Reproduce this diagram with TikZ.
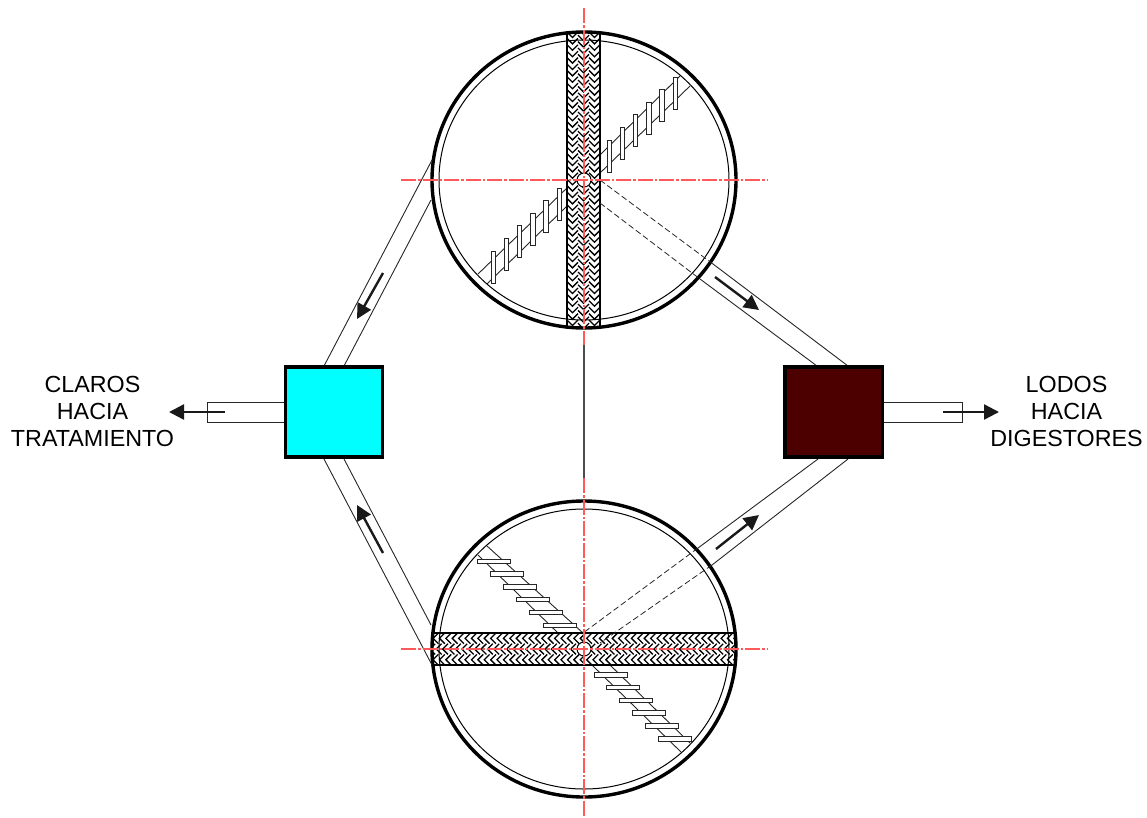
\documentclass[tikz,border=0pt]{standalone}
\usepackage{fontspec}
\setmainfont{Liberation Sans}
\usetikzlibrary{arrows.meta}
\definecolor{clearwater}{RGB}{0,255,255}
\definecolor{sludgecol}{RGB}{77,0,0}
\definecolor{axisred}{RGB}{255,90,90}
\tikzset{
  pipeline/.style={line width=0.9pt,black!85},
  hidden/.style={line width=0.8pt,black!85,dash pattern=on 6pt off 3pt},
  outerring/.style={line width=3.4pt,black},
  innerring/.style={line width=1pt,black},
  axisline/.style={line width=1.4pt,axisred,dash pattern=on 15pt off 2pt on 2.5pt off 2pt},
  belt/.style={line width=1.3pt,black},
  hatchline/.style={line width=1.3pt,black},
  paddle/.style={line width=1pt,black!85,fill=white},
  flow/.style={line width=2.4pt,black!90,-{Triangle[length=15pt,width=15pt]}},
  tank/.style={draw=black,line width=3.6pt,inner sep=0pt,minimum width=97.2pt,minimum height=90.4pt},
  hub/.style={circle,draw=black,fill=white,line width=1pt,minimum size=14pt,inner sep=0pt},
  caption/.style={align=center,font=\fontsize{23.3}{26.6}\selectfont}
}
\begin{document}
\begin{tikzpicture}[x=1pt,y=-1pt]
\useasboundingbox (0,0) rectangle (1147,817);
% ---------- top clarifier
\coordinate (topc) at (584,180);
\draw[pipeline] (600,155) -- (680,76);
\draw[pipeline] (690,86) -- (600,173);
\draw[pipeline] (568,205) -- (487,284);
\draw[pipeline] (478,274) -- (568,187);
\foreach \i in {0,...,5}{
  \draw[paddle] ({607+13.2*\i},{140-12.6*\i}) rectangle ++(4.5,32);
  \draw[paddle] ({557-13.2*\i},{188+12.6*\i}) rectangle ++(4.5,32);
}
\begin{scope}
  \clip (567,32) rectangle (600,328);
  \foreach \b/\x/\o in {0/567/0,1/578/3.2,2/589/0}{
    \foreach \k in {-1,...,48}{
      \draw[hatchline] (\x,{32+\o+6.4*\k}) -- ++(5.5,5.5) -- ++(5.5,-5.5);
    }
  }
\end{scope}
\draw[belt] (567,32) rectangle (600,328);
\draw[innerring] (topc) ellipse [x radius=145,y radius=140];
\draw[outerring] (topc) ellipse [x radius=152,y radius=148];
\draw[hidden] (600,180) -- (713,264);
\draw[hidden] (600,203) -- (700,279);
\node[hub] (hubtop) at (topc) {};
% ---------- bottom clarifier
\coordinate (botc) at (584,649);
\draw[pipeline] (583,633) -- (487,546);
\draw[pipeline] (478,555) -- (558,633);
\draw[pipeline] (592,665) -- (681,752);
\draw[pipeline] (690,743) -- (610,665);
\foreach \i in {0,...,5}{
  \draw[paddle] ({477+13.2*\i},{559+12.8*\i}) rectangle ++(33,4.5);
  \draw[paddle] ({594+12.9*\i},{672.5+12.8*\i}) rectangle ++(33,4.5);
}
\begin{scope}
  \clip (432,633) rectangle (736,665);
  \foreach \b/\y/\o in {0/633/0,1/643.7/3.2,2/654.4/0}{
    \foreach \k in {-1,...,49}{
      \draw[hatchline] ({432+\o+6.4*\k},\y) -- ++(-5.35,5.35) -- ++(5.35,5.35);
    }
  }
\end{scope}
\draw[belt] (432,633) rectangle (736,665);
\draw[innerring] (botc) ellipse [x radius=145,y radius=140];
\draw[outerring] (botc) ellipse [x radius=152,y radius=148];
\draw[hidden] (698,548) -- (583,633);
\draw[hidden] (712,565) -- (600,643);
\node[hub] (hubbot) at (botc) {};
% ---------- link between tanks
\draw[line width=1.2pt,black!70] (584,345) -- (584,478);
% ---------- pipes
\coordinate (tl1) at (432,160); \coordinate (tl2) at (431,200);
\coordinate (bl1) at (432,665); \coordinate (bl2) at (431,625);
\draw[pipeline] (tl1) -- (324,366);
\draw[pipeline] (tl2) -- (344,366);
\draw[pipeline] (bl1) -- (324,459);
\draw[pipeline] (bl2) -- (344,459);
\draw[pipeline] (713,264) -- (848,366);
\draw[pipeline] (700,279) -- (817,366);
\draw[pipeline] (698,548) -- (818,459);
\draw[pipeline] (712,565) -- (848,459);
% ---------- outlets
\draw[pipeline] (284,402) -- (207,402) -- (207,422) -- (284,422);
\draw[pipeline] (883,402) -- (962,402) -- (962,422) -- (883,422);
% ---------- boxes
\node[tank,fill=clearwater] (clear) at (334,412) {};
\node[tank,fill=sludgecol] (sludge) at (833.7,412) {};
% ---------- flow arrows
\draw[flow] (383,273) -- (357,319);
\draw[flow] (383,553) -- (357,505);
\draw[flow] (715,277) -- (759,310);
\draw[flow] (716,549) -- (759,515);
\draw[flow] (225,412) -- (169,412);
\draw[flow] (943,412) -- (999,412);
% ---------- axes
\draw[axisline] (584,8) -- (584,345);
\draw[axisline] (584,478) -- (584,817);
\draw[axisline] (401,180) -- (767,180);
\draw[axisline] (401,649) -- (767,649);
% ---------- labels
\node[caption] (claros) at (92.5,411.5) {CLAROS\\HACIA\\TRATAMIENTO};
\node[caption] (lodos) at (1066.5,411.5) {LODOS\\HACIA\\DIGESTORES};
\end{tikzpicture}
\end{document}
